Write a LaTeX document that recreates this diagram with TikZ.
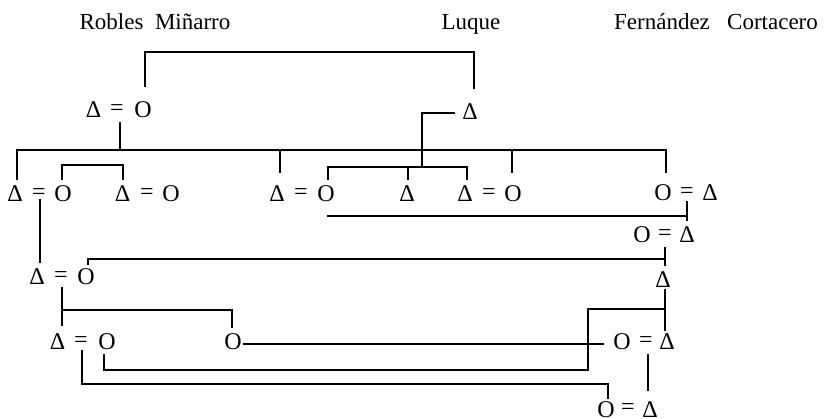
\documentclass[tikz,border=0pt]{standalone}
\usepackage{fontspec}
\setmainfont{Liberation Serif}
\begin{document}
\begin{tikzpicture}[x=1pt,y=-1pt,
  line width=2pt,
  sym/.style={font=\fontsize{24}{28}\selectfont, inner sep=0pt},
  fam/.style={font=\fontsize{23}{27}\selectfont, anchor=base, inner sep=0pt}]
\useasboundingbox (0,0) rectangle (824,419);
% family names
\node[fam] (robles) at (155,30) {Robles\ \ Miñarro};
\node[fam] (luque) at (471,30) {Luque};
\node[fam] (fernandez) at (716,30) {Fernández\ \ \ Cortacero};
% row 1
\node[sym] (a1) at (93.5,110) {Δ};
\node[sym] (e1) at (117,110) {=};
\node[sym] (o1) at (143,110) {O};
\node[sym] (l1) at (470,112) {Δ};
% row 2
\node[sym] (d21) at (15,194) {Δ};
\node[sym] (e21) at (39,194) {=};
\node[sym] (o21) at (63,194) {O};
\node[sym] (d22) at (122.5,194) {Δ};
\node[sym] (e22) at (147,194) {=};
\node[sym] (o22) at (171,194) {O};
\node[sym] (d23) at (277,194) {Δ};
\node[sym] (e23) at (301,194) {=};
\node[sym] (o23) at (326,194) {O};
\node[sym] (d24) at (407,194) {Δ};
\node[sym] (d25) at (465,194) {Δ};
\node[sym] (e25) at (489,194) {=};
\node[sym] (o25) at (513,194) {O};
\node[sym] (o26) at (663,193) {O};
\node[sym] (e26) at (687,193) {=};
\node[sym] (d26) at (710,193) {Δ};
% row 2b
\node[sym] (o27) at (642,235) {O};
\node[sym] (e27) at (665,235) {=};
\node[sym] (d27) at (687,235) {Δ};
% row 3
\node[sym] (d31) at (37,277) {Δ};
\node[sym] (e31) at (61,277) {=};
\node[sym] (o31) at (86,277) {O};
\node[sym] (d32) at (663,280) {Δ};
% row 4
\node[sym] (d41) at (57.5,342) {Δ};
\node[sym] (e41) at (81,342) {=};
\node[sym] (o41) at (107,342) {O};
\node[sym] (o42) at (233,342) {O};
\node[sym] (o43) at (622,342) {O};
\node[sym] (e43) at (646,342) {=};
\node[sym] (d43) at (667,342) {Δ};
% row 5
\node[sym] (o51) at (606,409.5) {O};
\node[sym] (e51) at (628,409.5) {=};
\node[sym] (d51) at (650,409.5) {Δ};
% waypoints
\coordinate (topbar) at (300,52);
\coordinate (bar) at (300,150);
\coordinate (sib) at (422,167);
\coordinate (k) at (588,370);
% connectors
\draw ([xshift=2pt,yshift=23pt]o1.center) |- (topbar) -| ([xshift=4pt,yshift=23pt]l1.center);
\draw ([xshift=3pt,yshift=-12pt]e1.center) -- ([xshift=3pt]e1.center |- bar);
\draw ([xshift=2pt,yshift=14pt]d21.center) |- (bar) -| ([xshift=3pt,yshift=20pt]o26.center);
\draw ([xshift=3pt,yshift=21pt]d23.center) -- ([xshift=3pt]d23.center |- bar);
\draw ([xshift=-1pt,yshift=21pt]o25.center) -- ([xshift=-1pt]o25.center |- bar);
\draw ([xshift=-15pt,yshift=-1pt]l1.center) -| (sib);
\draw ([xshift=2pt,yshift=14pt]o23.center) |- (sib) -| ([xshift=2pt,yshift=14pt]d25.center);
\draw ([xshift=1pt,yshift=14pt]d24.center) -- ([xshift=1pt]d24.center |- sib);
\draw ([xshift=-1pt,yshift=14pt]o21.center) -- ([xshift=-1pt,yshift=29pt]o21.center) -| ([xshift=0.5pt,yshift=14pt]d22.center);
\draw ([xshift=1pt,yshift=-5pt]e21.center) -- ([xshift=3pt,yshift=14pt]d31.center);
\draw ([yshift=-8pt]e26.center) -- ([yshift=14pt]d27.center);
\draw ([xshift=1pt,yshift=-22pt]o23.center) -- ([yshift=-23pt]e26.center);
\draw ([yshift=-12pt]e27.center) -- ([xshift=2pt,yshift=14pt]d32.center);
\draw ([xshift=2pt,yshift=12pt]o31.center) |- ([yshift=-24pt]e27.center);
\draw ([xshift=2pt,yshift=-9pt]d32.center) -- ([xshift=-2pt,yshift=11pt]d43.center);
\draw ([xshift=2pt,yshift=-29pt]d32.center) -| (k) -| ([xshift=-3pt,yshift=-12pt]o41.center);
\draw ([xshift=1pt,yshift=-10pt]e31.center) -- ([xshift=4.5pt,yshift=16pt]d41.center);
\draw ([xshift=1pt,yshift=-33pt]e31.center) -| ([xshift=-1pt,yshift=14pt]o42.center);
\draw ([yshift=-2pt]o42.east) -- ([xshift=-18pt,yshift=-2pt]o43.center);
\draw ([xshift=2pt,yshift=-12pt]e43.center) -- ([xshift=-2pt,yshift=18.5pt]d51.center);
\draw ([xshift=1pt,yshift=-8pt]e41.center) -- ([xshift=1pt,yshift=-42pt]e41.center) -| ([xshift=2pt,yshift=10.5pt]o51.center);
\end{tikzpicture}
\end{document}
